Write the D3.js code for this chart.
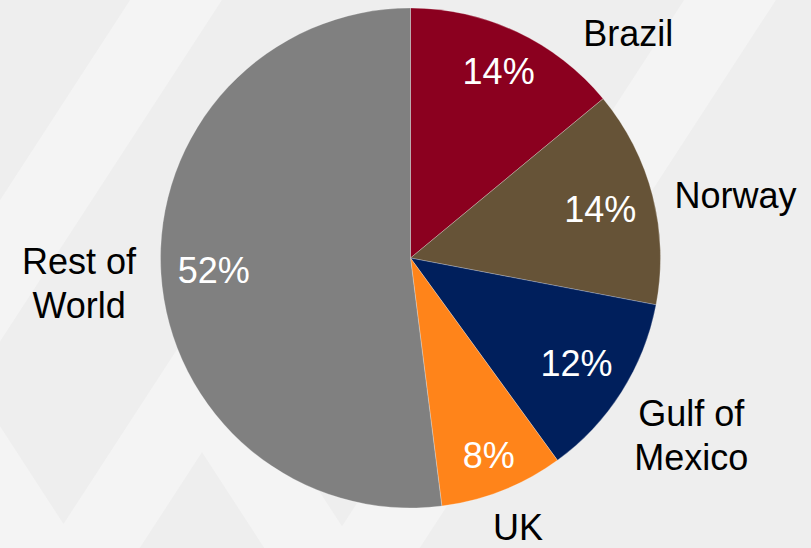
<!DOCTYPE html>
<html>
<head>
<meta charset="utf-8">
<script src="https://cdn.jsdelivr.net/npm/d3@7"></script>
<style>
  html, body { margin: 0; padding: 0; background: #eeeeee; }
  svg { display: block; }
  text { font-family: "Liberation Sans", Arial, sans-serif; }
</style>
</head>
<body>
<svg id="chart" width="811" height="548"></svg>
<script>
// Production share by region (%)
const categories = ["Brazil", "Norway", "Gulf of Mexico", "UK", "Rest of World"];
const shares = [14, 14, 12, 8, 52];
const labelLines = [["Brazil"], ["Norway"], ["Gulf of", "Mexico"], ["UK"], ["Rest of", "World"]];
const sliceColors = ["#8b001f", "#665337", "#001f5c", "#ff841a", "#808080"];

// Small hand adjustments to the outside labels after automatic placement
const labelNudge = [[9, 2], [5, 19], [-2, -2], [1, 0], [-5, 5]];

const W = 811, H = 548;
const cx = 410.5, cy = 258, R = 250;
const fontSize = 36;
const capHalf = fontSize * 0.716 / 2;
const lineGap = 44;

const svg = d3.select("#chart");

// Backdrop: pale zigzag ribbon over a light grey field
svg.append("rect").attr("width", W).attr("height", H).attr("fill", "#eeeeee");
const k = 0.65;                 // horizontal run per unit of vertical drop
const rising = [176, 450, 730]; // x + k*y for the rising strokes
const falling = [-323, -46];    // x - k*y for the falling strokes
const meet = (c, d) => [(c + d) / 2, (c - d) / (2 * k)];
const yStart = -100;
const ribbon = [
  [rising[0] - k * yStart, yStart],
  meet(rising[0], falling[0]),
  meet(rising[1], falling[0]),
  meet(rising[1], falling[1]),
  meet(rising[2], falling[1]),
  [rising[2] - k * yStart, yStart]
];
svg.append("path")
  .attr("d", d3.line()(ribbon))
  .attr("fill", "none")
  .attr("stroke", "#f4f4f4")
  .attr("stroke-width", 77)
  .attr("stroke-linejoin", "miter")
  .attr("stroke-miterlimit", 10);

const data = categories.map((c, i) => ({ name: c, value: shares[i], lines: labelLines[i], color: sliceColors[i], nudge: labelNudge[i] }));

const pie = d3.pie().sort(null).value(d => d.value);
const arcs = pie(data);
const arc = d3.arc().innerRadius(0).outerRadius(R);

const g = svg.append("g").attr("transform", `translate(${cx},${cy})`);

g.selectAll("path.slice")
  .data(arcs)
  .enter().append("path")
  .attr("class", "slice")
  .attr("d", arc)
  .attr("fill", d => d.data.color)
  .attr("stroke", "#ffffff")
  .attr("stroke-opacity", 0.5)
  .attr("stroke-width", 0.5);

const mid = d => (d.startAngle + d.endAngle) / 2;
// distance from a box centre to its edge along direction a
const reach = (a, hw, hh) => hw * Math.abs(Math.sin(a)) + hh * Math.abs(Math.cos(a));

// Percentage labels, placed just inside the rim
arcs.forEach(d => {
  const t = g.append("text")
    .attr("fill", "#ffffff")
    .attr("font-size", fontSize)
    .attr("text-anchor", "middle")
    .text(d.data.value + "%");
  const w = t.node().getComputedTextLength();
  const a = mid(d);
  const r = R - 16 - reach(a, w / 2, capHalf);
  t.attr("x", r * Math.sin(a)).attr("y", -r * Math.cos(a) + capHalf);
});

// Category labels, placed outside the rim and kept inside the frame
arcs.forEach(d => {
  const t = g.append("text")
    .attr("fill", "#000000")
    .attr("font-size", fontSize)
    .attr("text-anchor", "middle");
  const n = d.data.lines.length;
  d.data.lines.forEach(s => t.append("tspan").text(s));
  let w = 0;
  t.selectAll("tspan").each(function () { w = Math.max(w, this.getComputedTextLength()); });
  const hh = capHalf + (n - 1) * lineGap / 2;
  const pad = 18;
  let a = mid(d);
  const pos = ang => {
    const r = R + pad + reach(ang, w / 2, hh);
    return [r * Math.sin(ang), -r * Math.cos(ang)];
  };
  let [x, y] = pos(a);
  const minTop = 18 - cy;
  while (y - hh < minTop && a < Math.PI / 2) {
    a += 0.005;
    [x, y] = pos(a);
  }
  x += d.data.nudge[0];
  y += d.data.nudge[1];
  t.selectAll("tspan")
    .attr("x", x)
    .attr("y", (s, i) => y - (n - 1) * lineGap / 2 + i * lineGap + capHalf);
});
</script>
</body>
</html>
